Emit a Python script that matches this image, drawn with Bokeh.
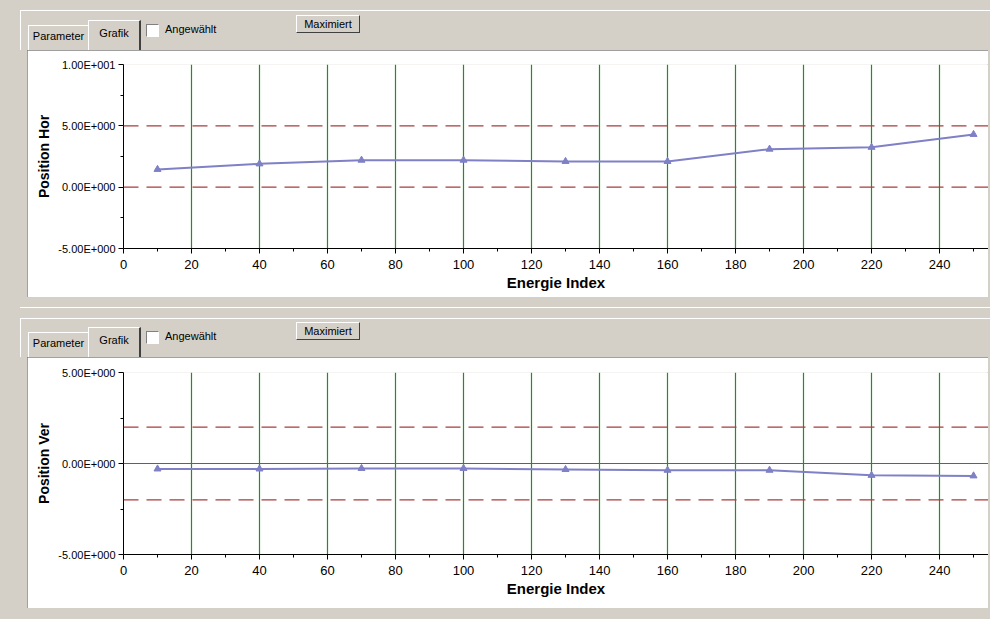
import re
from bokeh.plotting import figure
from bokeh.models import FixedTicker, Span, Div, Spacer, CustomJSTickFormatter, ColumnDataSource, Range1d
from bokeh.layouts import column, row
from bokeh.embed import file_html
from bokeh.resources import INLINE

# ---------------- data ----------------
energy_index = [10, 40, 70, 100, 130, 160, 190, 220, 250]
position_hor = [1.45, 1.9, 2.2, 2.2, 2.1, 2.1, 3.1, 3.25, 4.3]
position_ver = [-0.3, -0.3, -0.27, -0.27, -0.33, -0.37, -0.37, -0.65, -0.68]

x_ticks = [0, 20, 40, 60, 80, 100, 120, 140, 160, 180, 200, 220, 240]
x_minor_ticks = [10, 30, 50, 70, 90, 110, 130, 150, 170, 190, 210, 230, 250]

hor_y_ticks = [-5, 0, 5, 10]
hor_y_minor = [-2.5, 2.5, 7.5]
ver_y_ticks = [-5, 0, 5]
ver_y_minor = [-2.5, 2.5]

hor_limits = [5.0, 0.0]
ver_limits = [2.0, -2.0]
ver_zero_lines = [0.0]

x_label = "Energie Index"
hor_label = "Position Hor"
ver_label = "Position Ver"

FONT = "Liberation Sans"
GRID_GREEN = "#1f8f1f"
LIMIT_RED = "#a83c3c"
SERIES = "#7f80c6"
GUI_GRAY = "#d4d0c8"

sci_formatter = CustomJSTickFormatter(code="""
    if (tick === 0) { return "0.00E+000"; }
    const e = Math.floor(Math.log10(Math.abs(tick)) + 1e-9);
    const m = tick / Math.pow(10, e);
    return m.toFixed(2) + "E" + (e < 0 ? "-" : "+") + String(Math.abs(e)).padStart(3, "0");
""")


def make_chart(ylabel, yvals, yticks, yminor, height, top, bottom, limits, greens):
    y0, y1 = min(yticks), max(yticks)
    p = figure(width=961, height=height, output_backend="svg", toolbar_location=None,
               x_range=Range1d(0, 254.4), y_range=Range1d(y0, y1),
               min_border_left=96, min_border_right=0,
               min_border_top=top, min_border_bottom=bottom,
               background_fill_color="white", border_fill_color="white",
               outline_line_color=None)
    p.styles = {"outline": "1px solid #808080", "outline-offset": "-1px"}

    p.xaxis.ticker = FixedTicker(ticks=x_ticks, minor_ticks=x_minor_ticks)
    p.yaxis.ticker = FixedTicker(ticks=yticks, minor_ticks=yminor)
    p.yaxis.formatter = sci_formatter

    for ax in (p.xaxis[0], p.yaxis[0]):
        ax.axis_line_color = "black"
        ax.major_tick_line_color = "black"
        ax.minor_tick_line_color = "black"
        ax.major_tick_in = 0
        ax.major_tick_out = 5
        ax.minor_tick_in = 0
        ax.minor_tick_out = 3
        ax.major_label_text_font = FONT
        ax.major_label_text_color = "black"
        ax.axis_label_text_font = FONT
        ax.axis_label_text_font_style = "bold"
        ax.axis_label_text_color = "black"

    p.xaxis.major_label_text_font_size = "13px"
    p.xaxis.major_label_standoff = 6
    p.xaxis.axis_label = x_label
    p.xaxis.axis_label_text_font_size = "15px"
    p.xaxis.axis_label_standoff = 2

    p.yaxis.major_label_text_font_size = "11px"
    p.yaxis.major_label_standoff = 3
    p.yaxis.axis_label = ylabel
    p.yaxis.axis_label_text_font_size = "14px"
    p.yaxis.axis_label_standoff = 3

    p.xgrid.grid_line_color = GRID_GREEN
    p.xgrid.grid_line_alpha = 1.0
    p.xgrid.grid_line_width = 1.2
    p.ygrid.grid_line_color = None

    for g in greens:
        p.add_layout(Span(location=g, dimension="width", line_color=GRID_GREEN, line_width=1.2))
    for lim in limits:
        p.add_layout(Span(location=lim, dimension="width", line_color=LIMIT_RED,
                          line_width=1.2, line_dash="15 8"))

    src = ColumnDataSource(dict(x=energy_index, y=yvals))
    p.line("x", "y", source=src, line_color=SERIES, line_width=2)
    p.scatter("x", "y", source=src, marker="triangle", size=7,
              fill_color=SERIES, line_color=SERIES)
    return p


def gui_strip(height, dy, panel_lines):
    f = "font-family:'Liberation Sans',Arial,sans-serif;font-size:11px;color:#000;"
    lines = "".join(
        f'<div style="position:absolute;left:20px;top:{y}px;width:970px;height:0;border-top:1px solid #ffffff;"></div>'
        for y in panel_lines)
    html = (
        f'<div style="position:relative;width:990px;height:{height}px;background:{GUI_GRAY};{f}">'
        f'{lines}'
        f'<div style="position:absolute;left:20px;top:{max(panel_lines)}px;width:0;height:{height - max(panel_lines)}px;border-left:1px solid #ffffff;"></div>'
        # Parameter tab
        f'<div style="position:absolute;left:28px;top:{25 + dy}px;width:61px;height:25px;'
        f'border-top:1px solid #fff;border-left:1px solid #fff;border-right:1px solid #808080;'
        f'box-sizing:border-box;text-align:center;line-height:20px;">Parameter</div>'
        # Grafik tab
        f'<div style="position:absolute;left:88px;top:{20 + dy}px;width:53px;height:30px;'
        f'border-top:1px solid #fff;border-left:1px solid #fff;border-right:2px solid #404040;'
        f'box-sizing:border-box;text-align:center;line-height:24px;background:{GUI_GRAY};">Grafik</div>'
        # checkbox
        f'<div style="position:absolute;left:146px;top:{24 + dy}px;width:13px;height:13px;background:#fff;'
        f'border-top:1px solid #808080;border-left:1px solid #808080;border-bottom:1px solid #fff;'
        f'border-right:1px solid #fff;box-sizing:border-box;"></div>'
        f'<div style="position:absolute;left:165px;top:{22 + dy}px;line-height:14px;">Angewählt</div>'
        # button
        f'<div style="position:absolute;left:296px;top:{15 + dy}px;width:64px;height:18px;'
        f'border-top:1px solid #fff;border-left:1px solid #fff;border-right:1px solid #404040;'
        f'border-bottom:1px solid #404040;box-sizing:border-box;text-align:center;line-height:16px;">Maximiert</div>'
        '</div>'
    )
    return Div(text=html, width=990, height=height, margin=0,
               styles={"overflow": "hidden", "background-color": GUI_GRAY})


p1 = make_chart(hor_label, position_hor, hor_y_ticks, hor_y_minor,
                height=247, top=14, bottom=49, limits=hor_limits, greens=[])
p2 = make_chart(ver_label, position_ver, ver_y_ticks, ver_y_minor,
                height=251, top=15, bottom=54, limits=ver_limits, greens=ver_zero_lines)

d1 = gui_strip(50, 0, [10])
d2 = gui_strip(60, 10, [10, 21])

layout = column(
    d1,
    row(Spacer(width=27, height=247, margin=0, styles={"background-color": GUI_GRAY}), p1, spacing=0),
    d2,
    row(Spacer(width=27, height=251, margin=0, styles={"background-color": GUI_GRAY}), p2, spacing=0),
    spacing=0,
)

html = file_html(layout, INLINE, title="Position")
html = html.replace("</head>", "<style>html, body { background-color: #d4d0c8 !important; }</style></head>", 1)
html = re.sub(r"<body([^>]*)>", r'<body\1 style="background-color:#d4d0c8;">', html, count=1)
open("out.html", "w").write(html)
